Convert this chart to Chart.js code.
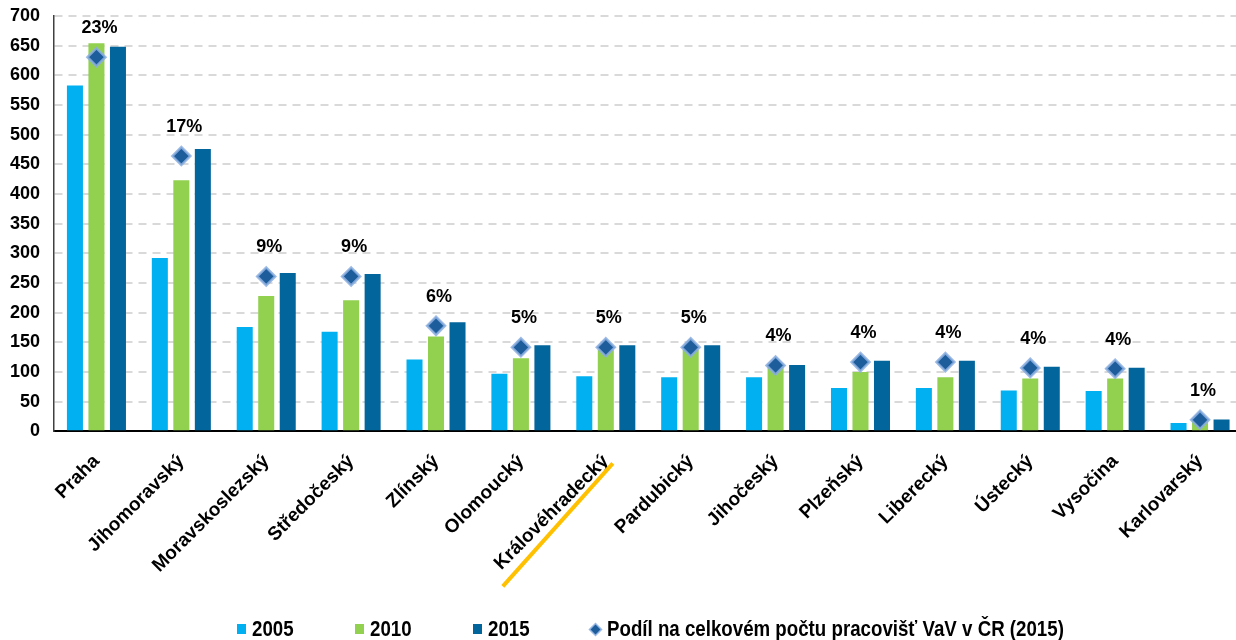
<!DOCTYPE html>
<html lang="cs">
<head>
<meta charset="utf-8">
<title>Pracoviště VaV podle krajů</title>
<script src="https://cdn.jsdelivr.net/npm/chart.js@4.4.1/dist/chart.umd.min.js"></script>
<style>
    html, body { margin: 0; padding: 0; background: #fff; overflow: hidden; }
    #wrap { position: relative; width: 1254px; height: 640px; }
    #chart { display: block; }
    #legend {
        position: absolute; left: 0; top: 617px; width: 1236px; height: 24px;
        font: bold 22px "Liberation Sans", Arial, sans-serif; color: #000;
        white-space: nowrap;
    }
    .item { position: absolute; top: 0; height: 24px; display: flex; align-items: center; }
    .box { width: 9px; height: 10px; margin-right: 6px; }
    .diamond {
        width: 7px; height: 7px; margin: 0 8px 0 2px; transform: rotate(45deg);
        box-shadow: 0 0 0 1.5px rgba(140,175,225,0.9);
    }
    .txt { display: inline-block; transform: scaleX(0.85); transform-origin: left center; line-height: 24px; }
</style>
</head>
<body>
<div id="wrap">
    <canvas id="chart" width="1254" height="640"></canvas>
    <div id="legend"></div>
</div>
<script>
/* ============================
   DATA
============================ */
const regions = ['Praha', 'Jihomoravský', 'Moravskoslezský', 'Středočeský', 'Zlínský',
    'Olomoucký', 'Královéhradecký', 'Pardubický', 'Jihočeský', 'Plzeňský',
    'Liberecký', 'Ústecký', 'Vysočina', 'Karlovarský'];

const values2005 = [583, 292, 176, 168, 121, 97, 93, 91, 91, 73, 73, 69, 68, 14];
const values2010 = [654, 423, 228, 221, 160, 123, 137, 137, 108, 100, 91, 89, 89, 20];
const values2015 = [648, 476, 267, 265, 184, 145, 145, 145, 112, 119, 119, 109, 107, 20];

// share of all R&D workplaces in CR (2015), percent
const share2015 = [22.7, 16.7, 9.4, 9.4, 6.4, 5.1, 5.1, 5.1, 4.0, 4.2, 4.2, 3.85, 3.8, 0.7];

const seriesNames = ['2005', '2010', '2015', 'Podíl na celkovém počtu pracovišť VaV v ČR (2015)'];
const highlighted = 'Královéhradecký';

/* ============================
   STYLE
============================ */
const FONT = '"Liberation Sans", Arial, sans-serif';
const colors = ['#00B0F0', '#92D050', '#02659C'];
const diamondFill = '#1D5D9B';
const diamondEdge = 'rgba(140,175,225,0.85)';
const legendLeft = [237, 355, 473, 590];

/* ============================
   PLUGINS
============================ */
// percentage labels above the diamonds
const shareLabels = {
    id: 'shareLabels',
    afterDatasetsDraw(chart) {
        const meta = chart.getDatasetMeta(3);
        const ctx = chart.ctx;
        ctx.save();
        ctx.font = 'bold 18px ' + FONT;
        ctx.fillStyle = '#000';
        ctx.textAlign = 'center';
        ctx.textBaseline = 'middle';
        meta.data.forEach((pt, i) => {
            ctx.fillText(Math.round(share2015[i]) + '%', pt.x + 3, pt.y - 29);
        });
        ctx.restore();
    }
};

// orange underline of the highlighted region label
const underline = {
    id: 'underline',
    afterDraw(chart) {
        const idx = regions.indexOf(highlighted);
        const x = chart.scales.x.getPixelForTick(idx);
        const y = chart.chartArea.bottom;
        const ctx = chart.ctx;
        ctx.save();
        ctx.strokeStyle = '#FFC000';
        ctx.lineWidth = 4;
        ctx.beginPath();
        ctx.moveTo(x + 7, y + 32);
        ctx.lineTo(x - 103, y + 155);
        ctx.stroke();
        ctx.restore();
    }
};

/* ============================
   CHART
============================ */
const barSet = (label, data, color) => ({
    type: 'bar',
    label,
    data,
    backgroundColor: color,
    barPercentage: 0.745,
    categoryPercentage: 0.76,
    yAxisID: 'y',
    order: 1
});

new Chart(document.getElementById('chart'), {
    data: {
        labels: regions,
        datasets: [
            barSet(seriesNames[0], values2005, colors[0]),
            barSet(seriesNames[1], values2010, colors[1]),
            barSet(seriesNames[2], values2015, colors[2]),
            {
                type: 'line',
                label: seriesNames[3],
                data: share2015,
                showLine: false,
                pointStyle: 'rectRot',
                pointRadius: 9,
                pointHoverRadius: 9,
                pointBackgroundColor: diamondFill,
                pointBorderColor: diamondEdge,
                pointBorderWidth: 2.5,
                yAxisID: 'y2',
                order: 0
            }
        ]
    },
    options: {
        responsive: false,
        animation: false,
        layout: { padding: { left: 9, top: 16, right: 0, bottom: 44 } },
        plugins: {
            legend: { display: false },
            tooltip: { enabled: false }
        },
        scales: {
            x: {
                offset: true,
                grid: { display: false, drawTicks: false },
                border: { display: true, color: '#000', width: 2 },
                ticks: {
                    autoSkip: false,
                    minRotation: 45,
                    maxRotation: 45,
                    padding: 19,
                    color: '#000',
                    font: { family: FONT, size: 19, weight: 'bold' }
                },
                afterFit(scale) { scale.paddingLeft = 0; scale.paddingRight = 0; }
            },
            y: {
                min: 0,
                max: 700,
                grid: { color: '#D9D9D9', lineWidth: 2, drawTicks: false },
                border: { display: true, color: '#404040', width: 1.5, dash: [8, 6] },
                ticks: {
                    stepSize: 50,
                    padding: 14,
                    color: '#000',
                    font: { family: FONT, size: 18, weight: 'bold' }
                },
                afterFit(scale) { scale.width = 45; scale.paddingTop = 0; scale.paddingBottom = 0; }
            },
            y2: {
                display: false,
                min: 0,
                max: 25.2
            }
        }
    },
    plugins: [shareLabels, underline]
});

/* ============================
   LEGEND
============================ */
const legend = document.getElementById('legend');
seriesNames.forEach((name, i) => {
    const item = document.createElement('div');
    item.className = 'item';
    item.style.left = legendLeft[i] + 'px';
    const mark = document.createElement('span');
    if (i < 3) {
        mark.className = 'box';
        mark.style.background = colors[i];
    } else {
        mark.className = 'diamond';
        mark.style.background = diamondFill;
    }
    const txt = document.createElement('span');
    txt.className = 'txt';
    txt.textContent = name;
    item.appendChild(mark);
    item.appendChild(txt);
    legend.appendChild(item);
});
</script>
</body>
</html>
